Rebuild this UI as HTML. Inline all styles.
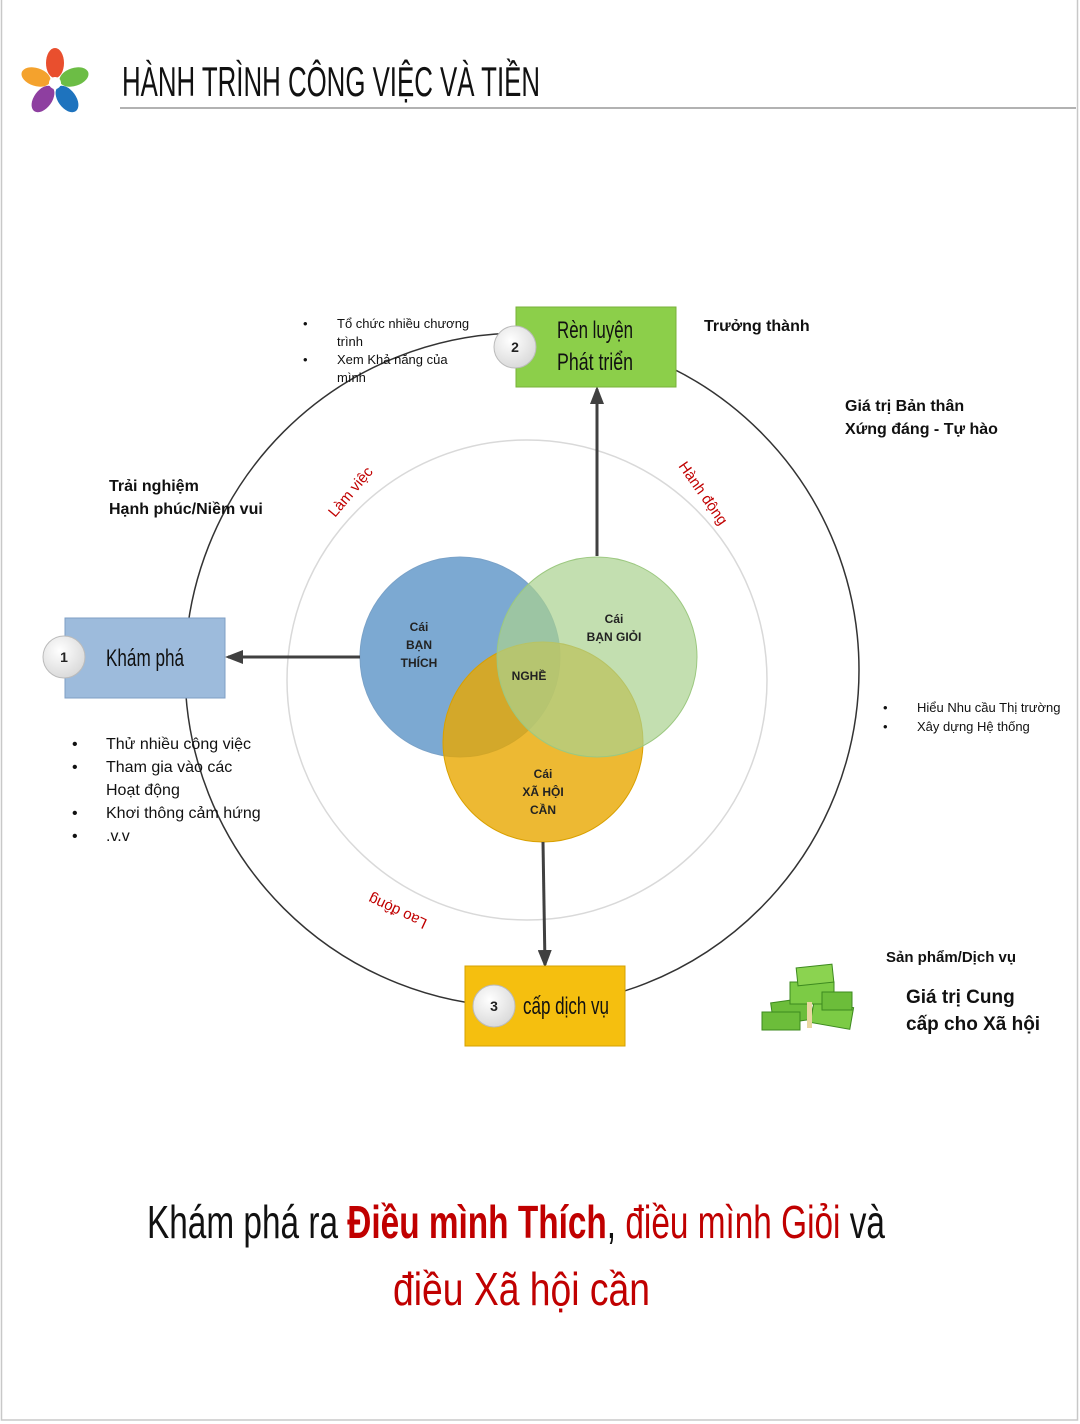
<!DOCTYPE html>
<html><head><meta charset="utf-8"><style>
html,body{margin:0;padding:0;background:#fff}
body{width:1080px;height:1424px;position:relative;overflow:hidden;font-family:"Liberation Sans",sans-serif}
</style></head><body>
<svg width="1080" height="1424" viewBox="0 0 1080 1424" xmlns="http://www.w3.org/2000/svg" style="position:absolute;left:0;top:0">
<defs>
<marker id="ah" markerWidth="18" markerHeight="14" refX="15" refY="7" orient="auto" markerUnits="userSpaceOnUse"><path d="M0,0 L18,7 L0,14 Z" fill="#404040"/></marker>
<radialGradient id="badge" cx="40%" cy="35%" r="70%"><stop offset="0" stop-color="#fff"/><stop offset="1" stop-color="#d8d8d8"/></radialGradient>
</defs>
<rect x="1.5" y="-2" width="1076" height="1422" fill="none" stroke="#c8c8c8" stroke-width="1.5"/>
<g transform="translate(55,83)">
<ellipse cx="0" cy="-20" rx="9" ry="15" fill="#e94f2e"/>
<ellipse cx="19" cy="-6" rx="9" ry="15" fill="#6cbd45" transform="rotate(72 19 -6)"/>
<ellipse cx="12" cy="16" rx="9" ry="15" fill="#1e73be" transform="rotate(144 12 16)"/>
<ellipse cx="-12" cy="16" rx="9" ry="15" fill="#8e3fa0" transform="rotate(216 -12 16)"/>
<ellipse cx="-19" cy="-6" rx="9" ry="15" fill="#f4a22d" transform="rotate(288 -19 -6)"/>
<circle cx="0" cy="0" r="6" fill="#fff"/>
</g>
<text x="122" y="96" font-family="Liberation Sans Narrow, Liberation Sans, sans-serif" font-size="42" fill="#111" textLength="418" lengthAdjust="spacingAndGlyphs">HÀNH TRÌNH CÔNG VIỆC VÀ TIỀN</text>
<line x1="120" y1="108" x2="1076" y2="108" stroke="#999" stroke-width="1.5"/>
<circle cx="522" cy="670" r="337" fill="none" stroke="#333" stroke-width="1.5"/>
<circle cx="527" cy="680" r="240" fill="none" stroke="#d9d9d9" stroke-width="1.5"/>
<circle cx="460" cy="657" r="100" fill="#5b93c7" fill-opacity="0.8" stroke="#7aa2c8"/>
<circle cx="543" cy="742" r="100" fill="#e9a800" fill-opacity="0.8" stroke="#d9a000"/>
<circle cx="597" cy="657" r="100" fill="#a9d18e" fill-opacity="0.7" stroke="#9cc880"/>
<g font-family="Liberation Sans, sans-serif" font-size="12" font-weight="bold" fill="#222" text-anchor="middle">
<text x="419" y="631">Cái</text><text x="419" y="649">BẠN</text><text x="419" y="667">THÍCH</text>
<text x="614" y="623">Cái</text><text x="614" y="641">BẠN GIỎI</text>
<text x="529" y="680">NGHỀ</text>
<text x="543" y="778">Cái</text><text x="543" y="796">XÃ HỘI</text><text x="543" y="814">CẦN</text>
</g>
<line x1="360" y1="657" x2="228" y2="657" stroke="#404040" stroke-width="3" marker-end="url(#ah)"/>
<line x1="597" y1="556" x2="597" y2="389" stroke="#404040" stroke-width="3" marker-end="url(#ah)"/>
<line x1="543" y1="842" x2="545" y2="965" stroke="#404040" stroke-width="3" marker-end="url(#ah)"/>
<rect x="65" y="618" width="160" height="80" fill="#9dbbdc" stroke="#7f9fc5"/>
<rect x="516" y="307" width="160" height="80" fill="#8ccf4a" stroke="#78b03a"/>
<rect x="465" y="966" width="160" height="80" fill="#f5bf0f" stroke="#d5a000"/>
<g font-family="Liberation Sans Narrow, Liberation Sans, sans-serif" font-size="24" fill="#111">
<text x="106" y="666" textLength="78" lengthAdjust="spacingAndGlyphs">Khám phá</text>
<text x="557" y="338" textLength="76" lengthAdjust="spacingAndGlyphs">Rèn luyện</text>
<text x="557" y="370" textLength="76" lengthAdjust="spacingAndGlyphs">Phát triển</text>
<text x="523" y="1014" textLength="86" lengthAdjust="spacingAndGlyphs">cấp dịch vụ</text>
</g>
<g font-family="Liberation Sans, sans-serif" font-size="14" font-weight="bold" fill="#222" text-anchor="middle">
<circle cx="64" cy="657" r="21" fill="url(#badge)" stroke="#bbb"/><text x="64" y="662">1</text>
<circle cx="515" cy="347" r="21" fill="url(#badge)" stroke="#bbb"/><text x="515" y="352">2</text>
<circle cx="494" cy="1006" r="21" fill="url(#badge)" stroke="#bbb"/><text x="494" y="1011">3</text>
</g>
<g font-family="Liberation Sans Narrow, Liberation Sans, sans-serif" font-size="15" fill="#c00000">
<text transform="translate(335,518) rotate(-50)">Làm việc</text>
<text transform="translate(678,466) rotate(55)">Hành động</text>
<text transform="translate(428,920) rotate(205)">Lao động</text>
</g>
<g font-family="Liberation Sans, sans-serif" fill="#111">
<g font-size="16" font-weight="bold">
<text x="109" y="491">Trải nghiệm</text><text x="109" y="514">Hạnh phúc/Niềm vui</text>
<text x="704" y="331">Trưởng thành</text>
<text x="845" y="411">Giá trị Bản thân</text><text x="845" y="434">Xứng đáng - Tự hào</text>
<text x="886" y="962" font-size="15">Sản phẩm/Dịch vụ</text>
<text x="906" y="1003" font-size="19">Giá trị Cung</text><text x="906" y="1030" font-size="19">cấp cho Xã hội</text>
</g>
<g font-size="13">
<text x="303" y="328">•</text><text x="337" y="328">Tổ chức nhiều chương</text><text x="337" y="346">trình</text>
<text x="303" y="364">•</text><text x="337" y="364">Xem Khả năng của</text><text x="337" y="382">mình</text>
<text x="883" y="712">•</text><text x="917" y="712">Hiểu Nhu cầu Thị trường</text>
<text x="883" y="731">•</text><text x="917" y="731">Xây dựng Hệ thống</text>
</g>
<g font-size="16">
<text x="72" y="749">•</text><text x="106" y="749">Thử nhiều công việc</text>
<text x="72" y="772">•</text><text x="106" y="772">Tham gia vào các</text>
<text x="106" y="795">Hoạt động</text>
<text x="72" y="818">•</text><text x="106" y="818">Khơi thông cảm hứng</text>
<text x="72" y="841">•</text><text x="106" y="841">.v.v</text>
</g>
</g>
<g transform="translate(762,962)">
<rect x="10" y="38" width="40" height="22" fill="#6cbd3a" stroke="#3d8a1f" transform="rotate(-8 30 49)"/>
<rect x="50" y="42" width="40" height="22" fill="#7ccb45" stroke="#3d8a1f" transform="rotate(10 70 53)"/>
<rect x="28" y="20" width="44" height="22" fill="#7ccb45" stroke="#3d8a1f"/>
<rect x="35" y="4" width="36" height="18" fill="#8bd350" stroke="#3d8a1f" transform="rotate(-6 53 13)"/>
<rect x="0" y="50" width="38" height="18" fill="#6cbd3a" stroke="#3d8a1f"/>
<rect x="60" y="30" width="30" height="18" fill="#6cbd3a" stroke="#3d8a1f"/>
<rect x="45" y="40" width="5" height="26" fill="#e8d7a0"/>
</g>
<g font-family="Liberation Sans Narrow, Liberation Sans, sans-serif" font-size="46">
<text x="147" y="1238" textLength="738" lengthAdjust="spacingAndGlyphs"><tspan fill="#111">Khám phá ra </tspan><tspan fill="#c00000" font-weight="bold">Điều mình Thích</tspan><tspan fill="#111">, </tspan><tspan fill="#c00000">điều mình Giỏi</tspan><tspan fill="#111"> và</tspan></text>
<text x="393" y="1305" fill="#c00000" textLength="257" lengthAdjust="spacingAndGlyphs">điều Xã hội cần</text>
</g>
</svg>
</body></html>
